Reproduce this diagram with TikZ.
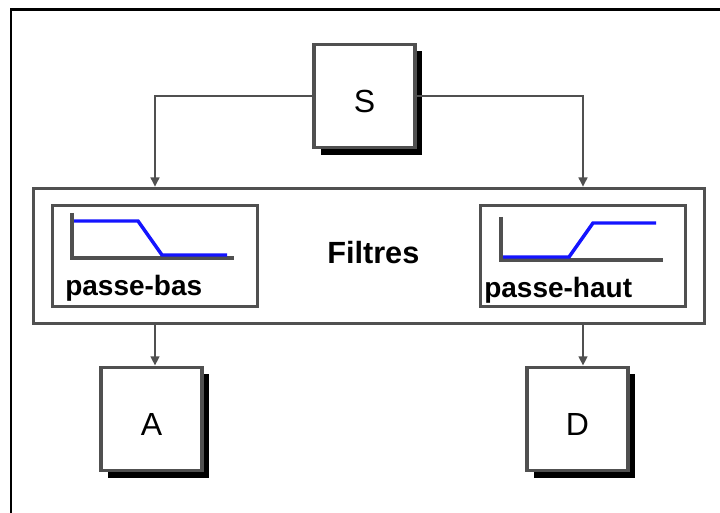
\documentclass[tikz,border=0pt]{standalone}
\usepackage{fontspec}
\setmainfont{Liberation Sans}
\usetikzlibrary{shadows,arrows.meta}
\definecolor{boxgray}{RGB}{80,80,80}
\definecolor{fblue}{RGB}{20,20,255}
\newcommand{\lowtxt}[1]{\vphantom{#1}\smash{\raisebox{-4pt}{#1}}}
\begin{document}
\begin{tikzpicture}[x=0.75pt,y=-0.75pt,
  box/.style={draw=boxgray, line width=2.6pt, fill=white, inner sep=0pt},
  shbox/.style={box, general shadow={fill=black, shadow xshift=5.25pt, shadow yshift=-5.25pt},
    minimum width=76pt, minimum height=77.5pt, font=\fontsize{24}{28}\selectfont},
  filt/.style={box, minimum width=153.75pt, minimum height=75.75pt},
  lbl/.style={anchor=base west, inner sep=0pt, font=\bfseries\fontsize{21}{24}\selectfont},
  arr/.style={draw=boxgray, line width=2.1pt, -{Triangle[length=7pt,width=6.5pt]}},
  axis/.style={draw=boxgray, line width=2.6pt},
  curve/.style={draw=fblue, line width=2.6pt},
]
\useasboundingbox (0,0) rectangle (720,513);
% outer frame (only top and left edges visible)
\draw[black, line width=2.2pt] (11,513) -- (11,9.5) -- (720,9.5);

% main filter box
\node[box, minimum width=503.25pt, minimum height=101.25pt] (F) at (369,256) {};
\node[filt] (pb) at (155,256) {};
\node[filt] (ph) at (583,256) {};
\node[inner sep=0pt, anchor=base west, font=\bfseries\fontsize{23}{26}\selectfont] (ft) at (327,263) {Filtres};
\node[lbl] (lpb) at (65,295) {passe-bas};
\node[lbl] (lph) at (484,297) {passe-haut};

% low-pass curve
\draw[axis] (72,213) -- (72,258) -- (234,258);
\draw[curve] (74,221) -- (138,221) -- (162,255) -- (227,255);
% high-pass curve
\draw[axis] (501,217) -- (501,260) -- (663,260);
\draw[curve] (503,257) -- (569,257) -- (593,223) -- (656,223);

% source and outputs
\node[shbox] (S) at (364.5,96) {\lowtxt{S}};
\node[shbox] (A) at (151.5,419) {\lowtxt{A}};
\node[shbox] (D) at (577.5,419) {\lowtxt{D}};

% connectors
\draw[arr] (S.west) -| (F.north -| pb.north);
\draw[arr] (S.east) -| (F.north -| ph.north);
\draw[arr] (F.south -| pb.south) -- (A.north -| pb.south);
\draw[arr] (F.south -| ph.south) -- (D.north -| ph.south);
\end{tikzpicture}
\end{document}
